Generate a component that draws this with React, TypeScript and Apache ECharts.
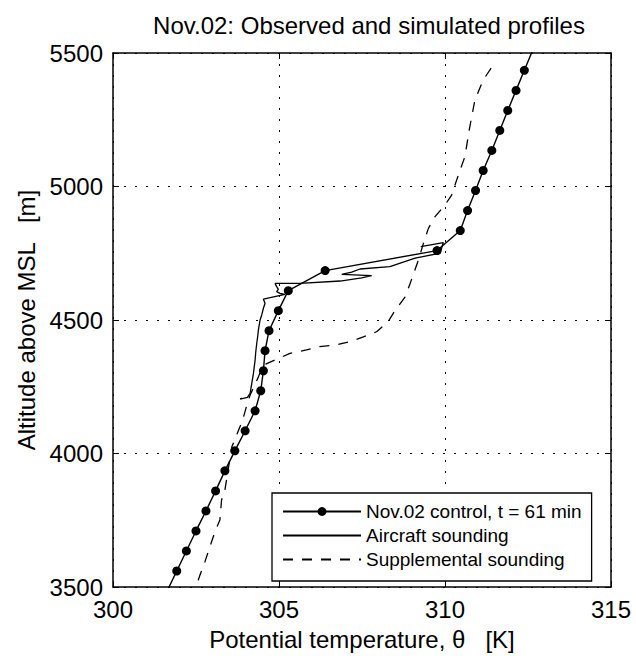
import React, { useEffect, useRef } from "react";
import * as echarts from "echarts";

const titleText = "Nov.02: Observed and simulated profiles";
const xName = "Potential temperature, θ   [K]";
const yName = "Altitude above MSL   [m]";
const seriesNames = ["Nov.02 control, t = 61 min", "Aircraft sounding", "Supplemental sounding"];

const xMin = 300, xMax = 315, xStep = 5;
const yMin = 3500, yMax = 5500, yStep = 500;

// Model control run (dots)
const controlAlt = [3485, 3560, 3635, 3710, 3785, 3860, 3935, 4010, 4085, 4160, 4235, 4310, 4385, 4460, 4535, 4610, 4685, 4760, 4835, 4910, 4985, 5060, 5135, 5210, 5285, 5360, 5435, 5510];
const controlTheta = [301.63, 301.92, 302.21, 302.50, 302.80, 303.09, 303.37, 303.67, 303.98, 304.28, 304.45, 304.53, 304.58, 304.70, 304.98, 305.28, 306.39, 309.76, 310.46, 310.68, 310.92, 311.15, 311.41, 311.65, 311.89, 312.14, 312.39, 312.64];

// Aircraft sounding (solid)
const aircraftAlt = [4775, 4790, 4750, 4732, 4700, 4691, 4679, 4671, 4666, 4658, 4646, 4637, 4637, 4625, 4615, 4606, 4600, 4596, 4578, 4563, 4544, 4519, 4500, 4463, 4440, 4413, 4380, 4350, 4320, 4300, 4263, 4225, 4210, 4204, 4208];
const aircraftTheta = [309.27, 309.95, 309.85, 309.10, 308.34, 307.44, 307.19, 306.89, 307.79, 307.49, 306.84, 305.63, 304.88, 304.93, 304.98, 304.93, 305.03, 305.18, 304.53, 304.58, 304.53, 304.48, 304.43, 304.38, 304.36, 304.33, 304.30, 304.28, 304.25, 304.23, 304.18, 304.13, 304.05, 303.83, 303.88];

// Supplemental sounding (dashed)
const supplAlt = [5443, 5399, 5324, 5212, 5112, 5024, 4968, 4931, 4887, 4843, 4787, 4725, 4637, 4587, 4531, 4494, 4456, 4437, 4419, 4406, 4400, 4388, 4375, 4356, 4335, 4300, 4287, 4219, 4176, 4123, 4025, 3863, 3826, 3751, 3707, 3651, 3595, 3545, 3500];
const supplTheta = [311.39, 311.15, 310.90, 310.73, 310.60, 310.35, 310.20, 310.00, 309.70, 309.50, 309.35, 309.20, 308.95, 308.80, 308.47, 308.29, 307.94, 307.54, 307.14, 306.69, 306.18, 305.83, 305.33, 304.98, 304.60, 304.42, 304.38, 304.13, 304.02, 303.90, 303.58, 303.37, 303.27, 303.22, 303.07, 302.92, 302.77, 302.62, 302.50];

const FONT = "'Liberation Sans', Arial, Helvetica, sans-serif";

function pairs(xs: number[], ys: number[]) {
  return xs.map((x, i) => [x, ys[i]]);
}

export default function App() {
  const ref = useRef<HTMLDivElement>(null);
  useEffect(() => {
    if (!ref.current) return;
    const chart = echarts.init(ref.current, undefined, { renderer: "svg" });
    const tickCommon = { show: true, inside: true, length: 6, lineStyle: { color: "#000", width: 1 } };
    const hiddenSymbol = { color: "rgba(0,0,0,0)", borderWidth: 0, opacity: 0 };
    const option: any = {
      animation: false,
      backgroundColor: "#fff",
      textStyle: { fontFamily: FONT, color: "#000" },
      title: {
        text: titleText,
        left: 364,
        textAlign: "center",
        top: 8,
        textStyle: { fontFamily: FONT, fontSize: 24, fontWeight: "normal", color: "#000" },
      },
      grid: { left: 113, top: 53, right: 25, bottom: 69, outerBoundsMode: "none", containLabel: false },
      legend: {
        orient: "vertical",
        left: 272,
        top: 493,
        padding: [9, 10, 12, 10],
        itemWidth: 78,
        itemHeight: 11,
        itemGap: 5,
        backgroundColor: "#fff",
        borderColor: "#000",
        borderWidth: 1.3,
        textStyle: { fontFamily: FONT, fontSize: 19, color: "#000" },
        data: [
          { name: seriesNames[0] },
          { name: seriesNames[1], itemStyle: hiddenSymbol },
          { name: seriesNames[2], itemStyle: hiddenSymbol },
        ],
        z: 10,
      },
      xAxis: [
        {
          type: "value",
          min: xMin,
          max: xMax,
          interval: xStep,
          position: "bottom",
          name: xName,
          nameLocation: "middle",
          nameGap: 40,
          nameTextStyle: { fontFamily: FONT, fontSize: 24, color: "#000" },
          axisLine: { show: true, onZero: false, lineStyle: { color: "#000", width: 1.5 } },
          axisTick: tickCommon,
          axisLabel: { fontFamily: FONT, fontSize: 24, color: "#000", margin: 10, formatter: (v: number) => String(v) },
          splitLine: { show: true, lineStyle: { color: "#000", type: [2, 9], width: 1 } },
        },
        {
          type: "value",
          min: xMin,
          max: xMax,
          interval: xStep,
          position: "top",
          axisLine: { show: true, onZero: false, lineStyle: { color: "#000", width: 1.5 } },
          axisTick: tickCommon,
          axisLabel: { show: false },
          splitLine: { show: false },
        },
      ],
      yAxis: [
        {
          type: "value",
          min: yMin,
          max: yMax,
          interval: yStep,
          position: "left",
          name: yName,
          nameLocation: "middle",
          nameGap: 72,
          nameTextStyle: { fontFamily: FONT, fontSize: 24, color: "#000" },
          axisLine: { show: true, onZero: false, lineStyle: { color: "#000", width: 1.5 } },
          axisTick: tickCommon,
          axisLabel: { fontFamily: FONT, fontSize: 24, color: "#000", margin: 10, formatter: (v: number) => String(v) },
          splitLine: { show: true, lineStyle: { color: "#000", type: [2, 9], width: 1 } },
        },
        {
          type: "value",
          min: yMin,
          max: yMax,
          interval: yStep,
          position: "right",
          axisLine: { show: true, onZero: false, lineStyle: { color: "#000", width: 1.5 } },
          axisTick: tickCommon,
          axisLabel: { show: false },
          splitLine: { show: false },
        },
      ],
      series: [
        {
          name: seriesNames[0],
          type: "line",
          data: pairs(controlTheta, controlAlt),
          symbol: "circle",
          symbolSize: 9,
          showSymbol: true,
          clip: true,
          itemStyle: { color: "#000" },
          lineStyle: { color: "#000", width: 1.4 },
          z: 5,
        },
        {
          name: seriesNames[1],
          type: "line",
          data: pairs(aircraftTheta, aircraftAlt),
          symbol: "none",
          clip: true,
          itemStyle: { color: "#000" },
          lineStyle: { color: "#000", width: 1.3 },
        },
        {
          name: seriesNames[2],
          type: "line",
          data: pairs(supplTheta, supplAlt),
          symbol: "none",
          clip: true,
          itemStyle: { color: "#000" },
          lineStyle: { color: "#000", width: 1.3, type: [10, 9] },
        },
      ],
    };
    chart.setOption(option);
    return () => chart.dispose();
  }, []);
  return <div ref={ref} style={{ width: 636, height: 656, position: "absolute", left: 0, top: 0 }} />;
}
